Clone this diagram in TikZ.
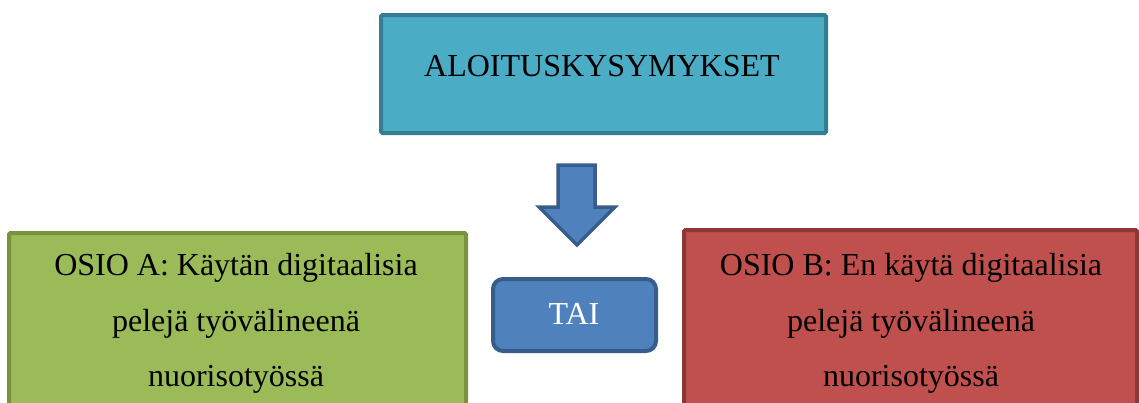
\documentclass[tikz,border=0pt]{standalone}
\usepackage{fontspec}
\setmainfont{Liberation Serif}
\definecolor{aquafill}{HTML}{4BACC6}
\definecolor{aquaedge}{HTML}{357D91}
\definecolor{bluefill}{HTML}{4F81BD}
\definecolor{blueedge}{HTML}{385D8A}
\definecolor{greenfill}{HTML}{9BBB59}
\definecolor{greenedge}{HTML}{77933C}
\definecolor{redfill}{HTML}{C0504D}
\definecolor{rededge}{HTML}{8C3836}
\tikzset{
  boxtext/.style={anchor=base, inner sep=0pt, font=\fontsize{32}{38}\selectfont},
  panel/.style={line width=4pt, rounded corners=1.5pt},
}
\begin{document}
\begin{tikzpicture}[x=1pt,y=-1pt]
\useasboundingbox (0,0) rectangle (1139,402);
\clip (0,0) rectangle (1139,402);
% top box
\draw[panel, draw=aquaedge, fill=aquafill] (381,15) rectangle (826,133);
\node[boxtext] (top) at (602,76) {ALOITUSKYSYMYKSET};
% down arrow
\draw[line width=3.5pt, draw=blueedge, fill=bluefill, line join=miter]
  (558,165) -- (595,165) -- (595,207) -- (615,207) -- (577,245)
  -- (539,207) -- (558,207) -- cycle;
% TAI box
\draw[line width=4pt, rounded corners=10pt, draw=blueedge, fill=bluefill] (493,279) rectangle (656,351);
\node[boxtext, text=white] (tai) at (574,324) {TAI};
% left box
\draw[panel, draw=greenedge, fill=greenfill] (9,233) rectangle (466,420);
\node[boxtext] (a1) at (236,275) {OSIO A: Käytän digitaalisia};
\node[boxtext] (a2) at (236,331) {pelejä työvälineenä};
\node[boxtext] (a3) at (236,386) {nuorisotyössä};
% right box
\draw[panel, draw=rededge, fill=redfill] (684,230) rectangle (1137,420);
\node[boxtext] (b1) at (911,275) {OSIO B: En käytä digitaalisia};
\node[boxtext] (b2) at (911,331) {pelejä työvälineenä};
\node[boxtext] (b3) at (911,386) {nuorisotyössä};
\end{tikzpicture}
\end{document}
